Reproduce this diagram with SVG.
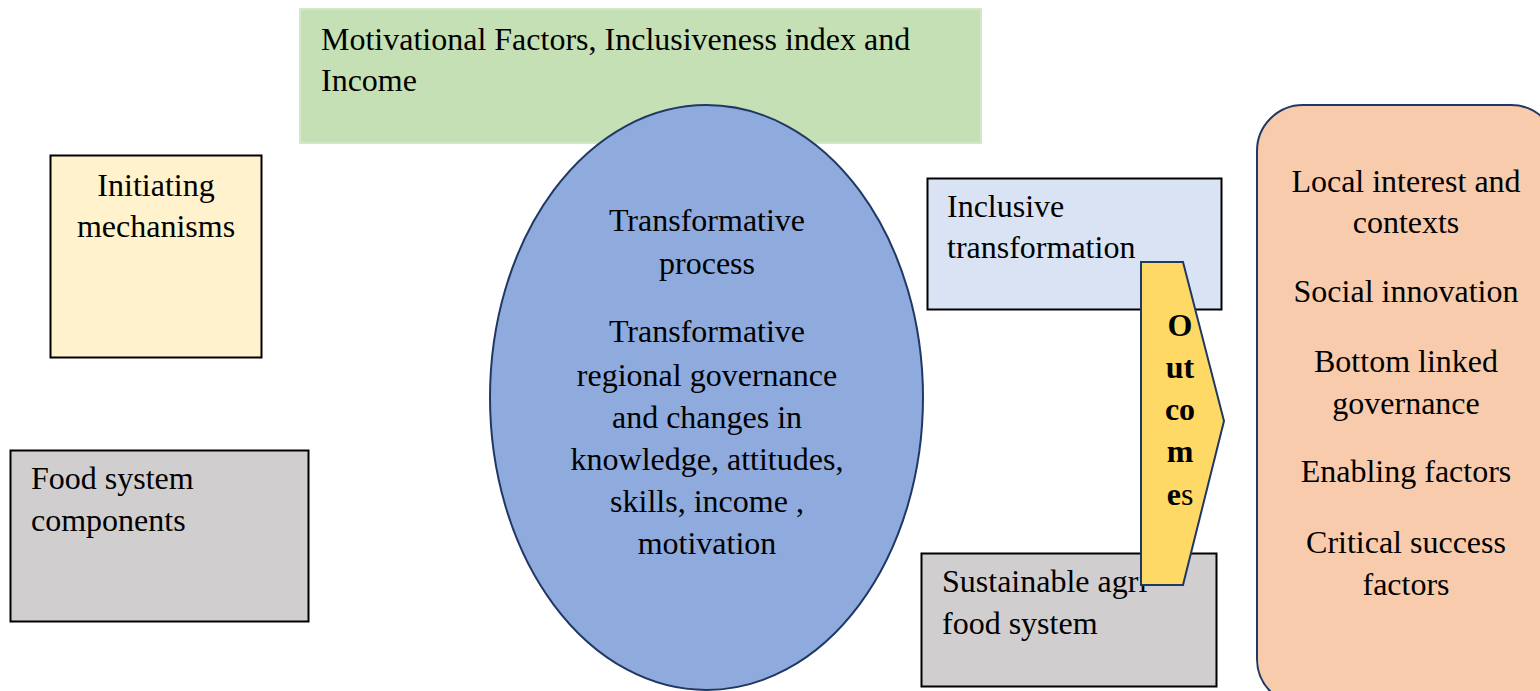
<svg xmlns="http://www.w3.org/2000/svg" width="1540" height="691" viewBox="0 0 1540 691" font-family="'Liberation Serif', 'Times New Roman', serif">
<style>
text{font-family:'Liberation Serif','Times New Roman',serif;font-size:32px;fill:#000}
.c{text-anchor:middle}
.box{stroke:#000;stroke-width:2}
.b{font-weight:bold}
</style>
<rect width="1540" height="691" fill="#fff"/>
<g id="motivational">
<rect x="300" y="9" width="681" height="134" fill="#C5E0B4" stroke="#D4E8C8" stroke-width="2"/>
<text x="321" y="50">Motivational Factors, Inclusiveness index and</text>
<text x="321" y="91">Income</text>
</g>
<g id="initiating">
<rect class="box" x="50.5" y="155.5" width="211" height="202" fill="#FFF2CC"/>
<text class="c" x="156" y="196">Initiating</text>
<text class="c" x="156" y="237">mechanisms</text>
</g>
<g id="food-system">
<rect class="box" x="10.5" y="450.5" width="298" height="171" fill="#D0CECE"/>
<text x="31" y="489">Food system</text>
<text x="31" y="531">components</text>
</g>
<g id="transformative">
<ellipse cx="706.5" cy="397.5" rx="216.5" ry="292.5" fill="#8FAADC" stroke="#203864" stroke-width="2"/>
<text class="c" x="707" y="231">Transformative</text>
<text class="c" x="707" y="274">process</text>
<text class="c" x="707" y="342">Transformative</text>
<text class="c" x="707" y="386">regional governance</text>
<text class="c" x="707" y="428">and changes in</text>
<text class="c" x="707" y="470">knowledge, attitudes,</text>
<text class="c" x="707" y="512">skills, income ,</text>
<text class="c" x="707" y="554">motivation</text>
</g>
<g id="inclusive">
<rect class="box" x="927.5" y="178.5" width="294" height="131" fill="#DAE3F3"/>
<text x="947" y="217">Inclusive</text>
<text x="947" y="258">transformation</text>
</g>
<g id="sustainable">
<rect class="box" x="921.5" y="553.5" width="295" height="133" fill="#D0CECE"/>
<text x="942" y="592">Sustainable agri-</text>
<text x="942" y="634">food system</text>
</g>
<g id="outcomes">
<polygon points="1141,262 1183,262 1224,421 1183,585 1141,585" fill="#FFD966" stroke="#203864" stroke-width="2"/>
<text class="c b" x="1180" y="336">O</text>
<text class="c b" x="1180" y="378">ut</text>
<text class="c b" x="1180" y="420">co</text>
<text class="c b" x="1180" y="462">m</text>
<text class="c" x="1180" y="505"><tspan class="b">e</tspan>s</text>
</g>
<g id="factors">
<rect x="1257" y="105" width="300" height="600" rx="46" ry="46" fill="#F8CBAD" stroke="#203864" stroke-width="2"/>
<text class="c" x="1406" y="192">Local interest and</text>
<text class="c" x="1406" y="233">contexts</text>
<text class="c" x="1406" y="302">Social innovation</text>
<text class="c" x="1406" y="372">Bottom linked</text>
<text class="c" x="1406" y="414">governance</text>
<text class="c" x="1406" y="482">Enabling factors</text>
<text class="c" x="1406" y="553">Critical success</text>
<text class="c" x="1406" y="595">factors</text>
</g>
<g id="connectors"></g>
</svg>
